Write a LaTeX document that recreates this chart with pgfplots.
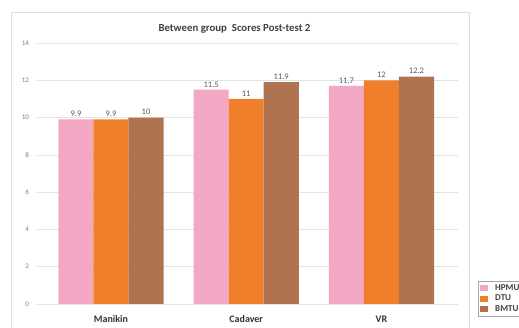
\documentclass[border=0pt]{standalone}
\usepackage{fontspec}
\setmainfont{Carlito}
\usepackage{pgfplots}
\pgfplotsset{compat=1.18}
\definecolor{hpmu}{HTML}{F2A7C5}
\definecolor{dtu}{HTML}{F07F2B}
\definecolor{bmtu}{HTML}{B07350}
\definecolor{gridc}{HTML}{E3E3E3}
\definecolor{framec}{HTML}{DDDDDD}
\definecolor{ticktxt}{HTML}{7A7A7A}
\begin{document}
\begin{tikzpicture}
\useasboundingbox (0pt,0pt) rectangle (519pt,328pt);
% outer chart frame
\draw[color=framec, line width=0.8pt] (11pt,-10pt) -- (11pt,316pt) -- (469pt,316pt) -- (469pt,-10pt);
\node[font=\bfseries\fontsize{10.8}{12}\selectfont, text=black!75] at (234.5pt,299.5pt) {Between group\ \ Scores Post-test 2};
\begin{axis}[
  at={(37pt,24pt)}, anchor=south west,
  scale only axis, width=421pt, height=261pt,
  xmin=-0.547, xmax=2.566, ymin=0, ymax=14,
  ybar, bar width=0.259,
  axis line style={draw=none},
  major tick length=0pt,
  ytick={0,2,...,14},
  ymajorgrids, grid style={color=gridc, line width=0.7pt},
  xtick={0,1,2}, xticklabels={Manikin,Cadaver,VR},
  xticklabel style={font=\bfseries\fontsize{10}{11}\selectfont, text=black!80, yshift=-8pt},
  yticklabel style={font=\fontsize{7}{8}\selectfont, text=ticktxt, xshift=-4.5pt},
  /pgf/number format/assume math mode=true,
  nodes near coords,
  every node near coord/.append style={font=\fontsize{8.5}{9}\selectfont, text=black!65, yshift=-1pt},
  legend style={at={(1.0475,0.088)}, anchor=north west, draw=gray!70,
    font=\bfseries\fontsize{9}{10}\selectfont, text=black!75, row sep=-1pt, inner sep=1.5pt,
    cells={anchor=west}},
  legend image code/.code={\fill[#1] (1.5pt,-3pt) rectangle (9.5pt,3pt); \path (15pt,0pt);},
]
\addplot[fill=hpmu, draw=none, bar shift=-0.259] coordinates {(0,9.9) (1,11.5) (2,11.7)};
\addplot[fill=dtu, draw=none, bar shift=0] coordinates {(0,9.9) (1,11) (2,12)};
\addplot[fill=bmtu, draw=none, bar shift=0.259] coordinates {(0,10) (1,11.9) (2,12.2)};
\legend{HPMU,DTU,BMTU}
\end{axis}
\end{tikzpicture}
\end{document}
